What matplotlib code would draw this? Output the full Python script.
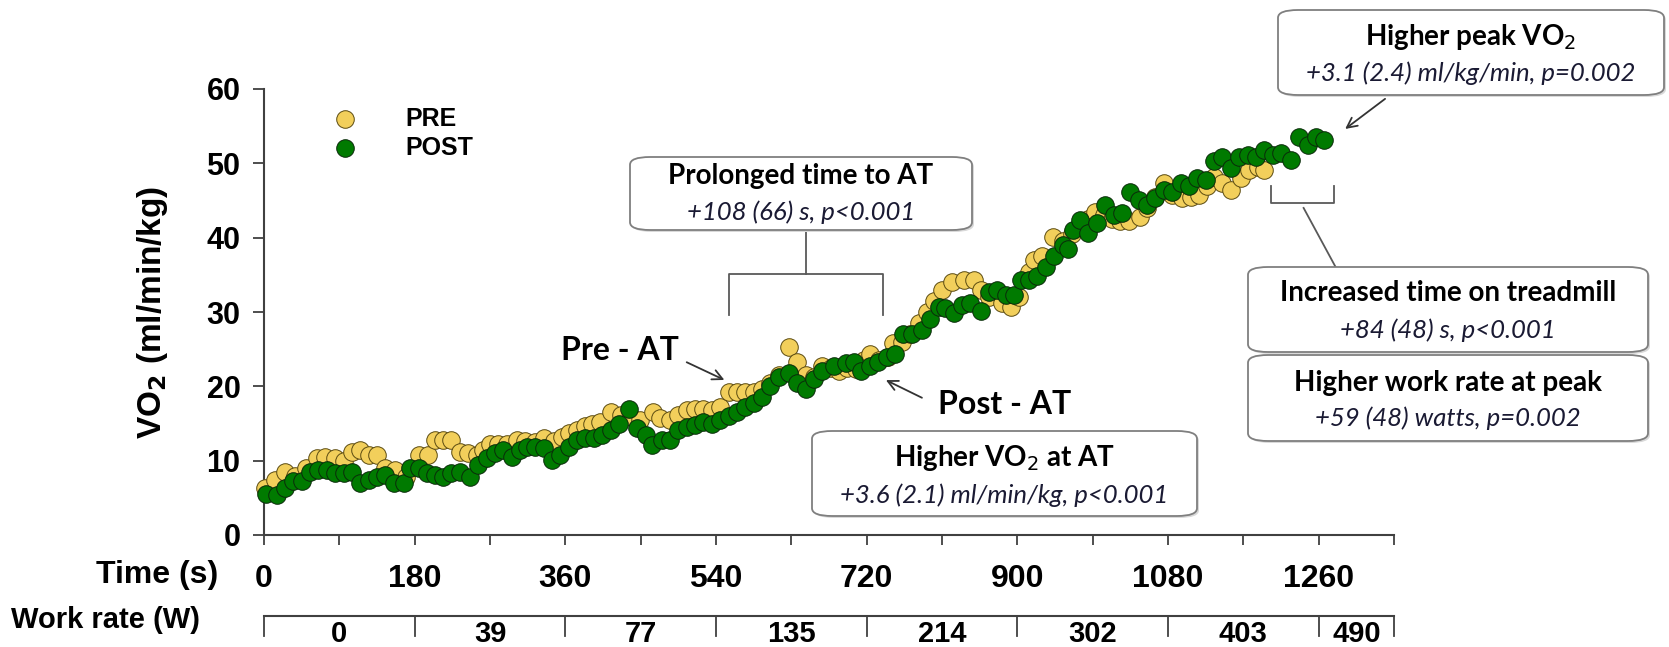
import matplotlib
matplotlib.use("Agg")
import matplotlib.pyplot as plt
from matplotlib.patches import FancyBboxPatch
import numpy as np

# VO2 during the treadmill test, before (PRE) and after (POST) training
pre_t = [1, 13, 25, 37, 50, 63, 73, 85, 95, 105, 115, 125, 135, 145, 157, 170, 185, 196, 204, 214,
         224, 234, 244, 254, 262, 270, 280, 290, 302, 312, 324, 334, 346, 356, 364, 374, 384, 392, 402, 414,
         426, 438, 449, 465, 473, 485, 495, 505, 515, 525, 535, 545, 555, 565, 575, 585, 595, 605, 615, 627,
         637, 647, 657, 667, 677, 687, 697, 707, 717, 724, 735, 745, 752, 762, 772, 782, 792, 800, 810, 822,
         836, 848, 856, 866, 882, 892, 902, 914, 920, 930, 943, 955, 965, 975, 985, 993, 1003, 1013, 1023, 1033,
         1047, 1055, 1065, 1075, 1085, 1097, 1107, 1117, 1127, 1135, 1145, 1155, 1167, 1177, 1187, 1195]
pre_v = [6.3, 7.4, 8.5, 7.9, 9.0, 10.3, 10.5, 10.3, 9.9, 11.2, 11.4, 10.8, 10.8, 9.0, 8.7, 7.8, 10.8, 10.8, 12.8, 12.8,
         12.8, 11.2, 11.0, 10.8, 11.5, 12.3, 12.3, 12.3, 12.8, 12.6, 12.5, 13.0, 12.6, 13.2, 13.7, 14.1, 14.6, 15.0, 15.2, 16.6,
         16.2, 15.9, 15.5, 16.6, 15.7, 15.5, 16.2, 16.8, 17.0, 17.0, 16.8, 17.2, 19.2, 19.2, 19.3, 19.3, 19.6, 20.5, 21.5, 25.3,
         23.3, 21.5, 21.2, 22.8, 22.5, 22.0, 22.5, 22.3, 23.5, 24.4, 23.5, 24.0, 25.8, 26.0, 27.0, 28.5, 30.0, 31.5, 33.0, 34.0,
         34.3, 34.3, 33.0, 32.0, 31.2, 30.7, 32.0, 35.4, 37.0, 37.5, 40.1, 39.5, 40.5, 41.5, 42.5, 43.5, 43.0, 42.5, 42.2, 42.2,
         42.8, 44.0, 45.5, 47.3, 45.8, 45.3, 45.5, 45.8, 47.0, 48.2, 47.3, 46.4, 48.0, 49.1, 49.5, 49.1]

post_t = [2, 15, 25, 35, 45, 55, 65, 75, 85, 95, 105, 115, 125, 135, 145, 155, 167, 175, 185, 195,
          204, 214, 224, 234, 246, 256, 266, 276, 286, 296, 306, 314, 324, 334, 344, 354, 364, 374, 384, 394,
          404, 414, 424, 436, 446, 456, 464, 475, 485, 495, 505, 515, 525, 535, 545, 555, 565, 575, 585, 595,
          605, 615, 627, 637, 647, 657, 667, 681, 695, 705, 713, 724, 734, 744, 754, 764, 774, 786, 796, 806,
          814, 824, 834, 844, 856, 866, 876, 886, 896, 904, 914, 924, 934, 944, 954, 960, 967, 975, 985, 995,
          1005, 1015, 1025, 1035, 1045, 1055, 1065, 1075, 1085, 1095, 1105, 1115, 1125, 1135, 1145, 1155, 1165, 1175, 1185, 1195,
          1205, 1215, 1227, 1237, 1247, 1257, 1266]
post_v = [5.5, 5.4, 6.3, 7.2, 7.2, 8.5, 8.7, 8.7, 8.3, 8.3, 8.5, 7.0, 7.4, 7.8, 8.1, 7.0, 7.0, 9.0, 9.0, 8.3,
          8.1, 7.8, 8.3, 8.5, 7.8, 9.4, 10.3, 11.0, 11.4, 10.5, 11.4, 11.9, 11.9, 11.7, 10.1, 10.8, 11.9, 12.8, 13.0, 13.0,
          13.5, 14.1, 15.0, 17.0, 14.4, 13.5, 12.1, 12.8, 12.8, 14.1, 14.5, 14.8, 15.2, 15.0, 15.5, 16.0, 16.5, 17.2, 17.8, 18.6,
          20.0, 21.2, 21.8, 20.5, 19.6, 21.0, 22.0, 22.7, 23.1, 23.3, 22.0, 22.7, 23.3, 24.0, 24.4, 27.1, 27.1, 27.6, 29.0, 30.7,
          30.5, 29.8, 31.0, 31.2, 30.1, 32.7, 33.0, 32.3, 32.3, 34.3, 34.3, 34.8, 36.0, 37.5, 39.0, 38.5, 41.0, 42.4, 40.6, 42.0,
          44.4, 43.1, 43.3, 46.2, 45.1, 44.4, 45.3, 46.4, 46.2, 47.3, 46.9, 48.0, 47.8, 50.3, 50.8, 49.4, 50.9, 51.1, 50.9, 51.8,
          51.1, 51.4, 50.5, 53.6, 52.5, 53.6, 53.2]

# work rate stages (W) and their time limits (s)
stage_edges = [0, 180, 360, 540, 720, 900, 1080, 1260, 1350]
stage_watts = ["0", "39", "77", "135", "214", "302", "403", "490"]

W, H = 1669, 647
fig = plt.figure(figsize=(W / 100, H / 100), dpi=100)

def px(x, y):
    return x / W, 1 - y / H

ax = fig.add_axes([264 / W, 1 - 535 / H, (1394 - 264) / W, (535 - 89) / H])

arial = ["Liberation Sans", "DejaVu Sans"]
calibri = ["Lato", "DejaVu Sans"]

ax.scatter(pre_t, pre_v, s=160, c="#F2CF5B", edgecolors="#5a4a10", linewidths=0.7, zorder=3, label="PRE", clip_on=False)
ax.scatter(post_t, post_v, s=160, c="#007A00", edgecolors="#0a2a0a", linewidths=0.7, zorder=4, label="POST", clip_on=False)

ax.set_xlim(0, 1350)
ax.set_ylim(0, 60)
ax.set_xticks(np.arange(0, 1351, 90))
ax.set_xticklabels([str(t) if t % 180 == 0 and t < 1350 else "" for t in np.arange(0, 1351, 90)],
                   fontsize=23, fontweight="bold", family=arial)
ax.set_yticks(np.arange(0, 61, 10))
ax.set_yticklabels([str(v) for v in range(0, 61, 10)], fontsize=22, fontweight="bold", family=arial)
ax.tick_params(axis="x", direction="out", length=7, width=1.3, color="#404040", pad=14)
ax.tick_params(axis="y", direction="out", length=8, width=1.3, color="#404040", pad=9)
for side in ["top", "right"]:
    ax.spines[side].set_visible(False)
for side in ["left", "bottom"]:
    ax.spines[side].set_color("#404040")
    ax.spines[side].set_linewidth(1.5)

ax.set_ylabel("VO$_\\mathbf{2}$ (ml/min/kg)", fontsize=24, fontweight="bold", family=arial, labelpad=26)

leg = ax.legend(loc="upper left", bbox_to_anchor=(0.03, 1.01), frameon=False, handletextpad=1.4,
                labelspacing=0.2, prop={"family": arial, "weight": "bold", "size": 18}, scatterpoints=1)

fig.text(*px(218, 575), "Time (s)", ha="right", va="center", fontsize=23, fontweight="bold", family=arial)
fig.text(*px(200, 620), "Work rate (W)", ha="right", va="center", fontsize=21, fontweight="bold", family=arial)

# work rate row under the time axis
wr = fig.add_axes([264 / W, 0, (1394 - 264) / W, 1 - 616 / H])
wr.set_xlim(0, 1350)
wr.set_ylim(0, 1)
wr.axis("off")
wr.plot([0, 1350], [1, 1], color="#404040", lw=1.5, clip_on=False)
for e in stage_edges:
    wr.plot([e, e], [1, 0.35], color="#404040", lw=1.3, clip_on=False)
for i, w in enumerate(stage_watts):
    wr.text((stage_edges[i] + stage_edges[i + 1]) / 2, 0.42, w, ha="center", va="center",
            fontsize=21, fontweight="bold", family=arial, clip_on=False)

# rounded text boxes
def note_box(x0, y0, x1, y1, title, sub, title_y, sub_y):
    shadow = FancyBboxPatch(px(x0 + 2, y1 + 2), (x1 - x0) / W, (y1 - y0) / H, transform=fig.transFigure,
                            boxstyle="round,pad=0,rounding_size=0.012", fc="#d9d9d9", ec="none", zorder=5)
    box = FancyBboxPatch(px(x0, y1), (x1 - x0) / W, (y1 - y0) / H, transform=fig.transFigure,
                         boxstyle="round,pad=0,rounding_size=0.012", fc="white", ec="#7f7f7f", lw=1.3, zorder=6)
    fig.patches.extend([shadow, box])
    cx = (x0 + x1) / 2
    fig.text(*px(cx, title_y), title, ha="center", va="center", fontsize=20, fontweight="bold",
             family=calibri, zorder=7)
    fig.text(*px(cx, sub_y), sub, ha="center", va="center", fontsize=18.5, style="italic",
             color="#1a1a33", family=calibri, zorder=7)

note_box(1278, 10, 1664, 95, "Higher peak VO$_2$", "+3.1 (2.4) ml/kg/min, p=0.002", 37, 73)
note_box(630, 157, 972, 230, "Prolonged time to AT", "+108 (66) s, p<0.001", 176, 212)
note_box(812, 431, 1197, 516, "Higher VO$_2$ at AT", "+3.6 (2.1) ml/min/kg, p<0.001", 458, 495)
note_box(1248, 267, 1648, 352, "Increased time on treadmill", "+84 (48) s, p<0.001", 293, 330)
note_box(1248, 355, 1648, 441, "Higher work rate at peak", "+59 (48) watts, p=0.002", 383, 418)

gray = "#595959"
# bracket for time to AT
ax.plot([555, 555, 740, 740], [29.6, 35.1, 35.1, 29.6], color=gray, lw=1.3, clip_on=False)
ax.plot([647, 647], [35.1, 41.0], color=gray, lw=1.3, clip_on=False)
# bracket for extra time on treadmill
ax.plot([1203, 1203, 1278, 1278], [46.9, 44.7, 44.7, 46.9], color=gray, lw=1.3, clip_on=False)
ax.plot([1242, 1280], [44.0, 36.1], color=gray, lw=1.3, clip_on=False)

arrow = dict(arrowstyle="->", color="#333333", lw=1.3, mutation_scale=18)
ax.annotate("", xy=(553, 20.7), xytext=(502, 23.4), arrowprops=arrow, annotation_clip=False)
ax.annotate("", xy=(740, 21.0), xytext=(789, 18.3), arrowprops=arrow, annotation_clip=False)
ax.annotate("", xy=(1289, 54.4), xytext=(1342, 58.9), arrowprops=arrow, annotation_clip=False)

fig.text(*px(620, 351), "Pre - AT", ha="center", va="center", fontsize=23, fontweight="bold", family=calibri)
fig.text(*px(1005, 404), "Post - AT", ha="center", va="center", fontsize=23, fontweight="bold", family=calibri)

fig.savefig("out.png", dpi=100)
